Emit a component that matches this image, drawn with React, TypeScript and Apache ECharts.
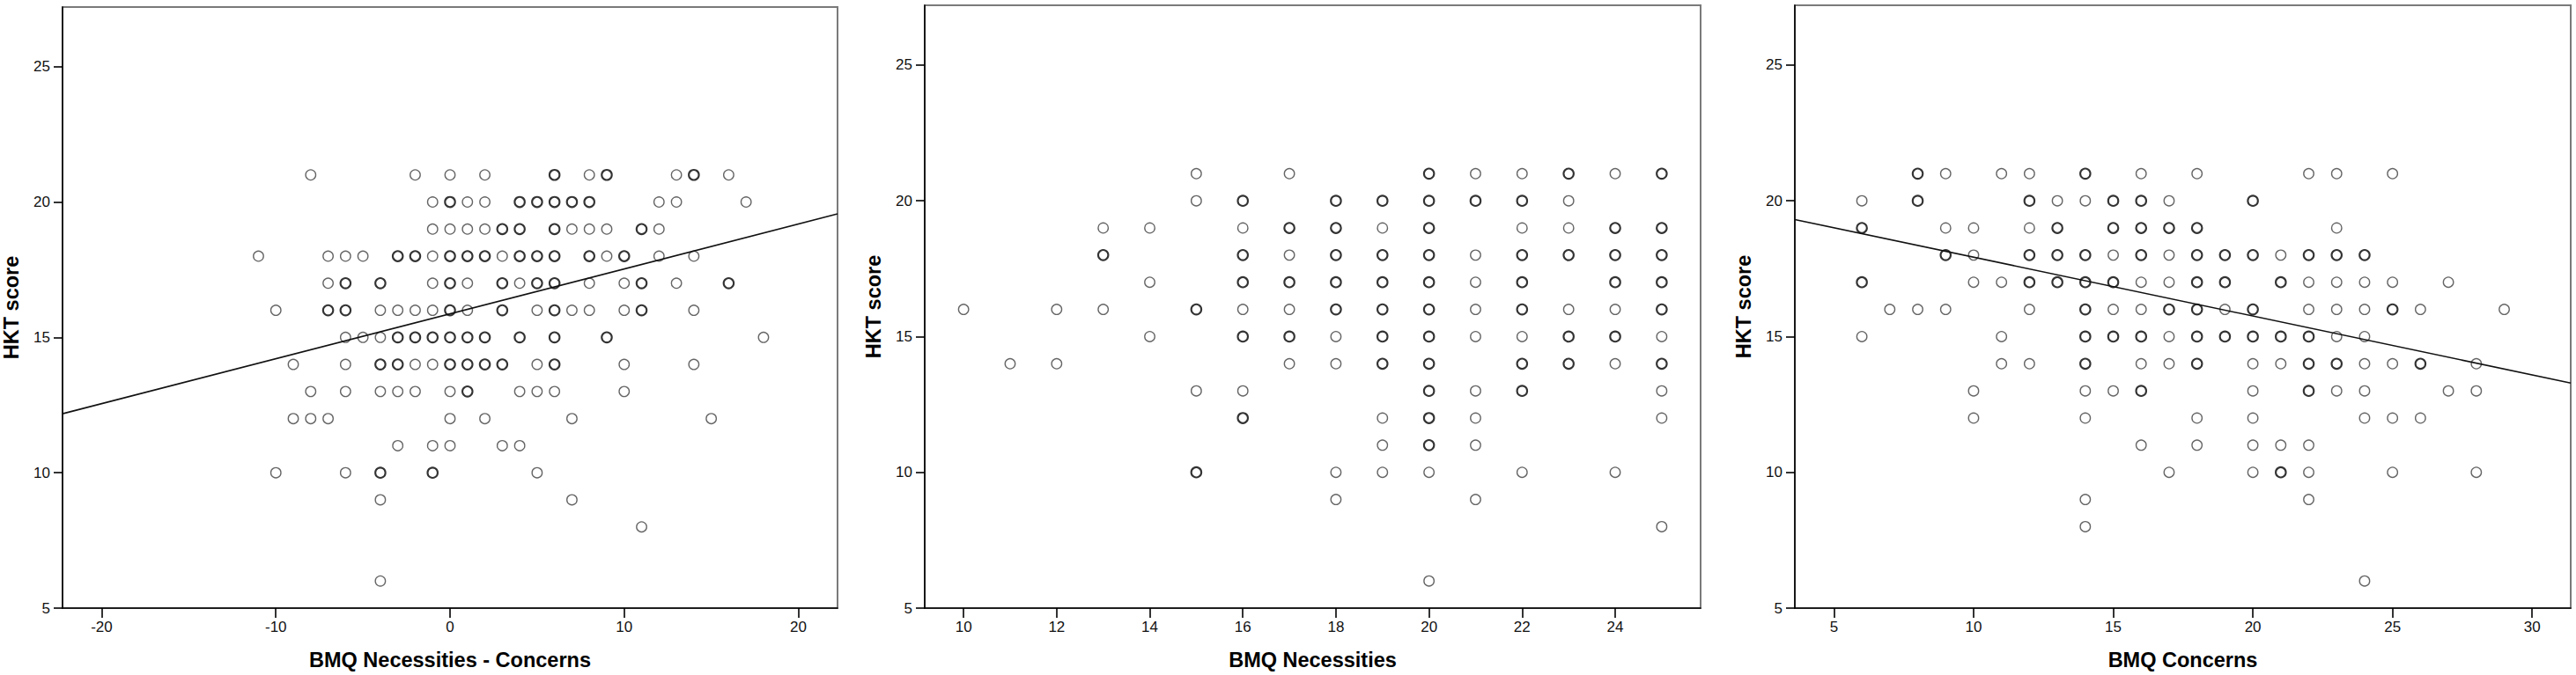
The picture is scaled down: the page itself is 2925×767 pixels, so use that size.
import React, { useEffect, useRef } from "react";
import * as echarts from "echarts";

// ---------- axes ----------
const yTicks = [5, 10, 15, 20, 25];
const yRange = [5, 27.2];

const xTicks1 = [-20, -10, 0, 10, 20];
const xRange1 = [-22.25, 22.25];
const xTicks2 = [10, 12, 14, 16, 18, 20, 22, 24];
const xRange2 = [9.165, 25.835];
const xTicks3 = [5, 10, 15, 20, 25, 30];
const xRange3 = [3.6, 31.38];

const xTitles = ["BMQ Necessities - Concerns", "BMQ Necessities", "BMQ Concerns"];
const yTitle = "HKT score";

// ---------- data: [x, HKT score, n]  (n = 2 : overlapping cases, darker ring) ----------
const points1 = [
  [-11, 18, 1],
  [-10, 16, 1], [-10, 10, 1],
  [-9, 14, 1], [-9, 12, 1],
  [-8, 21, 1], [-8, 13, 1], [-8, 12, 1],
  [-7, 18, 1], [-7, 17, 1], [-7, 16, 2], [-7, 12, 1],
  [-6, 18, 1], [-6, 17, 2], [-6, 16, 2], [-6, 15, 1], [-6, 14, 1], [-6, 13, 1], [-6, 10, 1],
  [-5, 18, 1], [-5, 15, 1],
  [-4, 17, 2], [-4, 16, 1], [-4, 15, 1], [-4, 14, 2], [-4, 13, 1], [-4, 10, 2], [-4, 9, 1], [-4, 6, 1],
  [-3, 18, 2], [-3, 16, 1], [-3, 15, 2], [-3, 14, 2], [-3, 13, 1], [-3, 11, 1],
  [-2, 21, 1], [-2, 18, 2], [-2, 16, 1], [-2, 15, 2], [-2, 14, 1], [-2, 13, 1],
  [-1, 20, 1], [-1, 19, 1], [-1, 18, 1], [-1, 17, 1], [-1, 16, 1], [-1, 15, 2], [-1, 14, 1], [-1, 11, 1], [-1, 10, 2],
  [0, 21, 1], [0, 20, 2], [0, 19, 1], [0, 18, 2], [0, 17, 2], [0, 16, 2], [0, 15, 2], [0, 14, 2], [0, 13, 1], [0, 12, 1], [0, 11, 1],
  [1, 20, 1], [1, 19, 1], [1, 18, 2], [1, 17, 1], [1, 16, 1], [1, 15, 2], [1, 14, 2], [1, 13, 2],
  [2, 21, 1], [2, 20, 1], [2, 19, 1], [2, 18, 2], [2, 15, 2], [2, 14, 2], [2, 12, 1],
  [3, 19, 2], [3, 18, 1], [3, 17, 2], [3, 16, 2], [3, 14, 2], [3, 11, 1],
  [4, 20, 2], [4, 19, 2], [4, 18, 2], [4, 17, 1], [4, 15, 2], [4, 13, 1], [4, 11, 1],
  [5, 20, 2], [5, 18, 2], [5, 17, 2], [5, 16, 1], [5, 14, 1], [5, 13, 1], [5, 10, 1],
  [6, 21, 2], [6, 20, 2], [6, 19, 2], [6, 18, 2], [6, 17, 2], [6, 16, 2], [6, 15, 2], [6, 14, 2], [6, 13, 1],
  [7, 20, 2], [7, 19, 1], [7, 16, 1], [7, 12, 1], [7, 9, 1],
  [8, 21, 1], [8, 20, 2], [8, 19, 1], [8, 18, 2], [8, 17, 1], [8, 16, 1],
  [9, 21, 2], [9, 19, 1], [9, 18, 1], [9, 15, 2],
  [10, 18, 2], [10, 17, 1], [10, 16, 1], [10, 14, 1], [10, 13, 1],
  [11, 19, 2], [11, 17, 2], [11, 16, 2], [11, 8, 1],
  [12, 20, 1], [12, 19, 1], [12, 18, 1],
  [13, 21, 1], [13, 20, 1], [13, 17, 1],
  [14, 21, 2], [14, 18, 1], [14, 16, 1], [14, 14, 1],
  [15, 12, 1],
  [16, 21, 1], [16, 17, 2],
  [17, 20, 1],
  [18, 15, 1],
];

const points2 = [
  [10, 16, 1],
  [11, 14, 1],
  [12, 16, 1], [12, 14, 1],
  [13, 19, 1], [13, 18, 2], [13, 16, 1],
  [14, 19, 1], [14, 17, 1], [14, 15, 1],
  [15, 21, 1], [15, 20, 1], [15, 16, 2], [15, 13, 1], [15, 10, 2],
  [16, 20, 2], [16, 19, 1], [16, 18, 2], [16, 17, 2], [16, 16, 1], [16, 15, 2], [16, 13, 1], [16, 12, 2],
  [17, 21, 1], [17, 19, 2], [17, 18, 1], [17, 17, 2], [17, 16, 1], [17, 15, 2], [17, 14, 1],
  [18, 20, 2], [18, 19, 2], [18, 18, 2], [18, 17, 2], [18, 16, 2], [18, 15, 1], [18, 14, 1], [18, 10, 1], [18, 9, 1],
  [19, 20, 2], [19, 19, 1], [19, 18, 2], [19, 17, 2], [19, 16, 2], [19, 15, 2], [19, 14, 2], [19, 12, 1], [19, 11, 1], [19, 10, 1],
  [20, 21, 2], [20, 20, 2], [20, 19, 2], [20, 18, 2], [20, 17, 2], [20, 16, 2], [20, 15, 2], [20, 14, 2], [20, 13, 2], [20, 12, 2], [20, 11, 2], [20, 10, 1], [20, 6, 1],
  [21, 21, 1], [21, 20, 2], [21, 18, 1], [21, 17, 1], [21, 16, 1], [21, 15, 1], [21, 13, 1], [21, 12, 1], [21, 11, 1], [21, 9, 1],
  [22, 21, 1], [22, 20, 2], [22, 19, 1], [22, 18, 2], [22, 17, 2], [22, 16, 2], [22, 15, 1], [22, 14, 2], [22, 13, 2], [22, 10, 1],
  [23, 21, 2], [23, 20, 1], [23, 19, 1], [23, 18, 2], [23, 16, 1], [23, 15, 2], [23, 14, 2],
  [24, 21, 1], [24, 19, 2], [24, 18, 2], [24, 17, 2], [24, 16, 1], [24, 15, 2], [24, 14, 1], [24, 10, 1],
  [25, 21, 2], [25, 19, 2], [25, 18, 2], [25, 17, 2], [25, 16, 2], [25, 15, 1], [25, 14, 2], [25, 13, 1], [25, 12, 1], [25, 8, 1],
];

const points3 = [
  [6, 20, 1], [6, 19, 2], [6, 17, 2], [6, 15, 1],
  [7, 16, 1],
  [8, 21, 2], [8, 20, 2], [8, 16, 1],
  [9, 21, 1], [9, 19, 1], [9, 18, 2], [9, 16, 1],
  [10, 19, 1], [10, 18, 1], [10, 17, 1], [10, 13, 1], [10, 12, 1],
  [11, 21, 1], [11, 17, 1], [11, 15, 1], [11, 14, 1],
  [12, 21, 1], [12, 20, 2], [12, 19, 1], [12, 18, 2], [12, 17, 2], [12, 16, 1], [12, 14, 1],
  [13, 20, 1], [13, 19, 2], [13, 18, 2], [13, 17, 2],
  [14, 21, 2], [14, 20, 1], [14, 18, 2], [14, 17, 2], [14, 16, 2], [14, 15, 2], [14, 14, 2], [14, 13, 1], [14, 12, 1], [14, 9, 1], [14, 8, 1],
  [15, 20, 2], [15, 19, 2], [15, 18, 1], [15, 17, 2], [15, 16, 1], [15, 15, 2], [15, 13, 1],
  [16, 21, 1], [16, 20, 2], [16, 19, 2], [16, 18, 2], [16, 17, 1], [16, 16, 1], [16, 15, 2], [16, 14, 1], [16, 13, 2], [16, 11, 1],
  [17, 20, 1], [17, 19, 2], [17, 18, 1], [17, 17, 1], [17, 16, 2], [17, 15, 1], [17, 14, 1], [17, 10, 1],
  [18, 21, 1], [18, 19, 2], [18, 18, 2], [18, 17, 2], [18, 16, 2], [18, 15, 2], [18, 14, 2], [18, 12, 1], [18, 11, 1],
  [19, 18, 2], [19, 17, 2], [19, 16, 1], [19, 15, 2],
  [20, 20, 2], [20, 18, 2], [20, 16, 2], [20, 15, 2], [20, 14, 1], [20, 13, 1], [20, 12, 1], [20, 11, 1], [20, 10, 1],
  [21, 18, 1], [21, 17, 2], [21, 15, 2], [21, 14, 1], [21, 11, 1], [21, 10, 2],
  [22, 21, 1], [22, 18, 2], [22, 17, 1], [22, 16, 1], [22, 15, 2], [22, 14, 2], [22, 13, 2], [22, 11, 1], [22, 10, 1], [22, 9, 1],
  [23, 21, 1], [23, 19, 1], [23, 18, 2], [23, 17, 1], [23, 16, 1], [23, 15, 1], [23, 14, 2], [23, 13, 1],
  [24, 18, 2], [24, 17, 1], [24, 16, 1], [24, 15, 1], [24, 14, 1], [24, 13, 1], [24, 12, 1], [24, 6, 1],
  [25, 21, 1], [25, 17, 1], [25, 16, 2], [25, 14, 1], [25, 12, 1], [25, 10, 1],
  [26, 16, 1], [26, 14, 2], [26, 12, 1],
  [27, 17, 1], [27, 13, 1],
  [28, 14, 1], [28, 13, 1], [28, 10, 1],
  [29, 16, 1],
];

// fit lines (end points at the axis limits)
const fit1 = [[-22.25, 12.18], [22.25, 19.56]];
const fit3 = [[3.6, 19.31], [31.38, 13.29]];

const FONT = "'Liberation Sans', Arial, sans-serif";

export default function App() {
  const ref = useRef<HTMLDivElement>(null);

  useEffect(() => {
    if (!ref.current) return;
    const chart = echarts.init(ref.current, undefined, { renderer: "svg" });

    const grids = [
      { left: 71, top: 8, width: 880, height: 686 },
      { left: 1050, top: 6, width: 881, height: 685 },
      { left: 2038, top: 6, width: 881, height: 685 },
    ];
    const xRanges = [xRange1, xRange2, xRange3];
    const xTickSets = [xTicks1, xTicks2, xTicks3];
    const pointSets = [points1, points2, points3];

    const axisLine = { show: true, onZero: false, lineStyle: { color: "#000", width: 1.6 } };
    const labelStyle = { fontSize: 17, color: "#111", fontFamily: FONT };
    const nameStyle = { fontSize: 23.5, fontWeight: "bold" as const, color: "#000", fontFamily: FONT };

    const xAxis = grids.map((_, i) => ({
      type: "value",
      gridIndex: i,
      min: xRanges[i][0],
      max: xRanges[i][1],
      axisLine,
      axisTick: { show: true, length: 11, customValues: xTickSets[i], lineStyle: { color: "#000", width: 1.6 } },
      axisLabel: { ...labelStyle, margin: 13, customValues: xTickSets[i] },
      splitLine: { show: false },
      name: xTitles[i],
      nameLocation: "middle",
      nameGap: 47,
      nameTextStyle: nameStyle,
    }));

    const yAxis = grids.map((_, i) => ({
      type: "value",
      gridIndex: i,
      min: yRange[0],
      max: yRange[1],
      axisLine,
      axisTick: { show: true, length: 10, customValues: yTicks, lineStyle: { color: "#000", width: 1.6 } },
      axisLabel: { ...labelStyle, margin: 14, customValues: yTicks },
      splitLine: { show: false },
      name: yTitle,
      nameLocation: "middle",
      nameGap: 46,
      nameTextStyle: nameStyle,
    }));

    const scatterSeries = pointSets.map((pts, i) => ({
      type: "scatter",
      xAxisIndex: i,
      yAxisIndex: i,
      symbol: "circle",
      symbolSize: 11.5,
      silent: true,
      z: 3,
      data: pts.map((p) => ({
        value: [p[0], p[1]],
        itemStyle: {
          color: "rgba(0,0,0,0)",
          borderColor: p[2] > 1 ? "#000" : "#3f3f3f",
          borderWidth: p[2] > 1 ? 2.1 : 1.35,
        },
      })),
    }));

    const lineSeries = [
      { data: fit1, idx: 0 },
      { data: fit3, idx: 2 },
    ].map((l) => ({
      type: "line",
      xAxisIndex: l.idx,
      yAxisIndex: l.idx,
      data: l.data,
      showSymbol: false,
      silent: true,
      z: 4,
      lineStyle: { color: "#111", width: 1.6 },
    }));

    chart.setOption({
      animation: false,
      backgroundColor: "#fff",
      grid: grids.map((g) => ({
        ...g,
        show: true,
        borderColor: "#7a7a7a",
        borderWidth: 2,
        backgroundColor: "rgba(0,0,0,0)",
        containLabel: false,
      })),
      xAxis,
      yAxis,
      series: [...scatterSeries, ...lineSeries],
    });

    return () => chart.dispose();
  }, []);

  return (
    <div
      ref={ref}
      style={{ position: "fixed", left: 0, top: 0, width: 2925, height: 767, background: "#fff" }}
    />
  );
}
